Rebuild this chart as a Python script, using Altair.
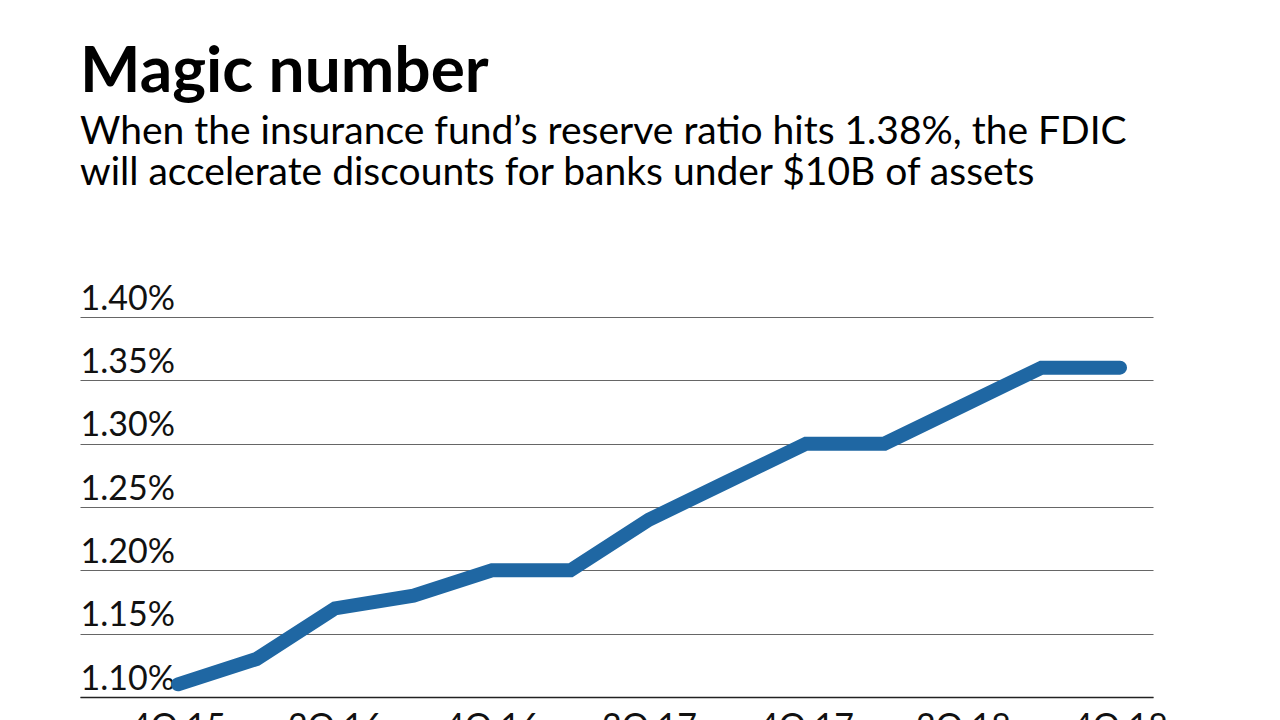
import altair as alt
import pandas as pd

quarters = ["4Q 15", "1Q 16", "2Q 16", "3Q 16", "4Q 16", "1Q 17", "2Q 17",
            "3Q 17", "4Q 17", "1Q 18", "2Q 18", "3Q 18", "4Q 18"]
ratio = [1.11, 1.13, 1.17, 1.18, 1.20, 1.20, 1.24, 1.27, 1.30, 1.30, 1.33, 1.36, 1.36]
y_ticks = [1.10, 1.15, 1.20, 1.25, 1.30, 1.35, 1.40]
x_ticks = [0, 2, 4, 6, 8, 10, 12]

df = pd.DataFrame({"idx": list(range(len(quarters))), "q": quarters, "ratio": ratio})

label_map = "{" + ",".join(f"'{i}':'{quarters[i]}'" for i in x_ticks) + "}"

FONT = "Lato"

chart = alt.Chart(df).mark_line(
    color="#1f67a3", strokeWidth=14, strokeCap="round", strokeJoin="miter"
).encode(
    x=alt.X("idx:Q", scale=alt.Scale(domain=[-1.248, 12.42], nice=False, zero=False),
            axis=alt.Axis(values=x_ticks, labelExpr=f"{label_map}[datum.value + '']",
                          title=None, grid=False, ticks=False, domain=True,
                          domainColor="#222222", domainWidth=1.5,
                          labelFont=FONT, labelFontSize=34, labelColor="#111111",
                          labelPadding=13, labelBaseline="top")),
    y=alt.Y("ratio:Q", scale=alt.Scale(domain=[1.10, 1.40], nice=False, zero=False),
            axis=alt.Axis(values=y_ticks, labelExpr="format(datum.value, '.2f') + '%'",
                          title=None, grid=True, gridColor="#666666", gridWidth=1.2,
                          ticks=False, domain=False, labelAlign="left",
                          labelPadding=0, labelBaseline="alphabetic", labelOffset=-8,
                          labelFont=FONT, labelFontSize=34, labelColor="#111111")),
).properties(
    width=1073, height=380,
    background="white",
    title=alt.TitleParams(
        text="Magic number",
        subtitle=["When the insurance fund\u2019s reserve ratio hits 1.38%, the FDIC",
                  "will accelerate discounts for banks under $10B of assets"],
        anchor="start", frame="group", offset=89,
        font=FONT, fontSize=64, fontWeight="bold", color="#000000",
        subtitleFont=FONT, subtitleFontSize=39, subtitleColor="#000000",
        subtitleLineHeight=41, subtitlePadding=8,
    ),
    autosize=alt.AutoSizeParams(type="none"),
    padding={"left": 72, "top": 309, "right": 80, "bottom": 60},
).configure_view(stroke="transparent", strokeWidth=0)

chart.save("out.html", embed_options={"renderer": "svg", "actions": False})
